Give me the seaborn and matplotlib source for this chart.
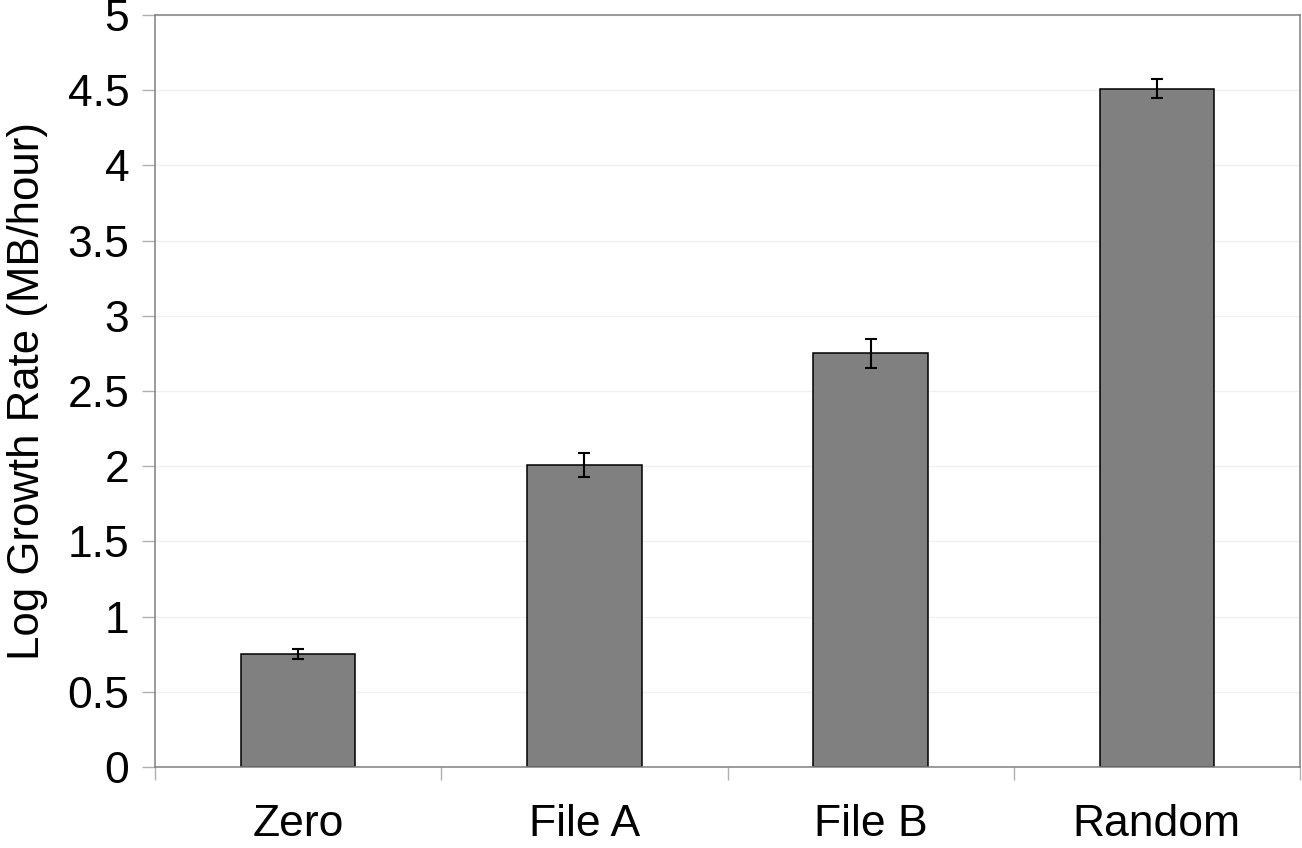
import matplotlib
matplotlib.use("Agg")
import matplotlib.pyplot as plt
import seaborn as sns
import pandas as pd
import numpy as np
from matplotlib.ticker import FixedLocator

categories = ["Zero", "File A", "File B", "Random"]
values = [0.75, 2.01, 2.75, 4.51]
errors = [0.035, 0.08, 0.095, 0.065]
yticks = [0, 0.5, 1, 1.5, 2, 2.5, 3, 3.5, 4, 4.5, 5]
yticklabels = ["0", "0.5", "1", "1.5", "2", "2.5", "3", "3.5", "4", "4.5", "5"]

sns.set_style("white")
plt.rcParams['font.family'] = ['Liberation Sans', 'DejaVu Sans']
plt.rcParams['text.color'] = 'black'
plt.rcParams['axes.labelcolor'] = 'black'
plt.rcParams['xtick.color'] = 'black'
plt.rcParams['ytick.color'] = 'black'

fig = plt.figure(figsize=(13.02, 8.48), dpi=100)
ax = fig.add_axes([155/1302, 81/848, 1145/1302, 752/848])

df = pd.DataFrame({"cat": categories, "val": values})
sns.barplot(data=df, x="cat", y="val", color="#808080", width=0.4,
            edgecolor="black", linewidth=1.1, saturation=1, errorbar=None, ax=ax)
ax.errorbar(np.arange(len(categories)), values, yerr=errors, fmt="none",
            ecolor="black", elinewidth=1.5, capsize=4.3, capthick=1.5, zorder=5)

ax.set_xlim(-0.5, len(categories) - 0.5)
ax.set_ylim(0, 5)
ax.set_yticks(yticks)
ax.set_yticklabels(yticklabels)
ax.yaxis.grid(True, color="#f0f0f0", linewidth=1)
ax.set_axisbelow(True)

ax.set_xlabel("")
ax.set_ylabel("Log Growth Rate (MB/hour)", fontsize=31.5, labelpad=14)
ax.tick_params(axis="y", labelsize=32, length=9.5, width=1, color="#b0b0b0",
               labelcolor="black", direction="out", pad=9, left=True)
ax.tick_params(axis="x", which="major", labelsize=32, length=0, pad=27,
               labelcolor="black")
ax.xaxis.set_minor_locator(FixedLocator(np.arange(-0.5, len(categories), 1.0)))
ax.tick_params(axis="x", which="minor", length=9.5, width=1, color="#b0b0b0",
               direction="out", bottom=True)

for side in ["left", "top", "right", "bottom"]:
    ax.spines[side].set_visible(True)
    ax.spines[side].set_color("#808080")
    ax.spines[side].set_linewidth(1.1)

fig.savefig("out.png", dpi=100, facecolor="white")
